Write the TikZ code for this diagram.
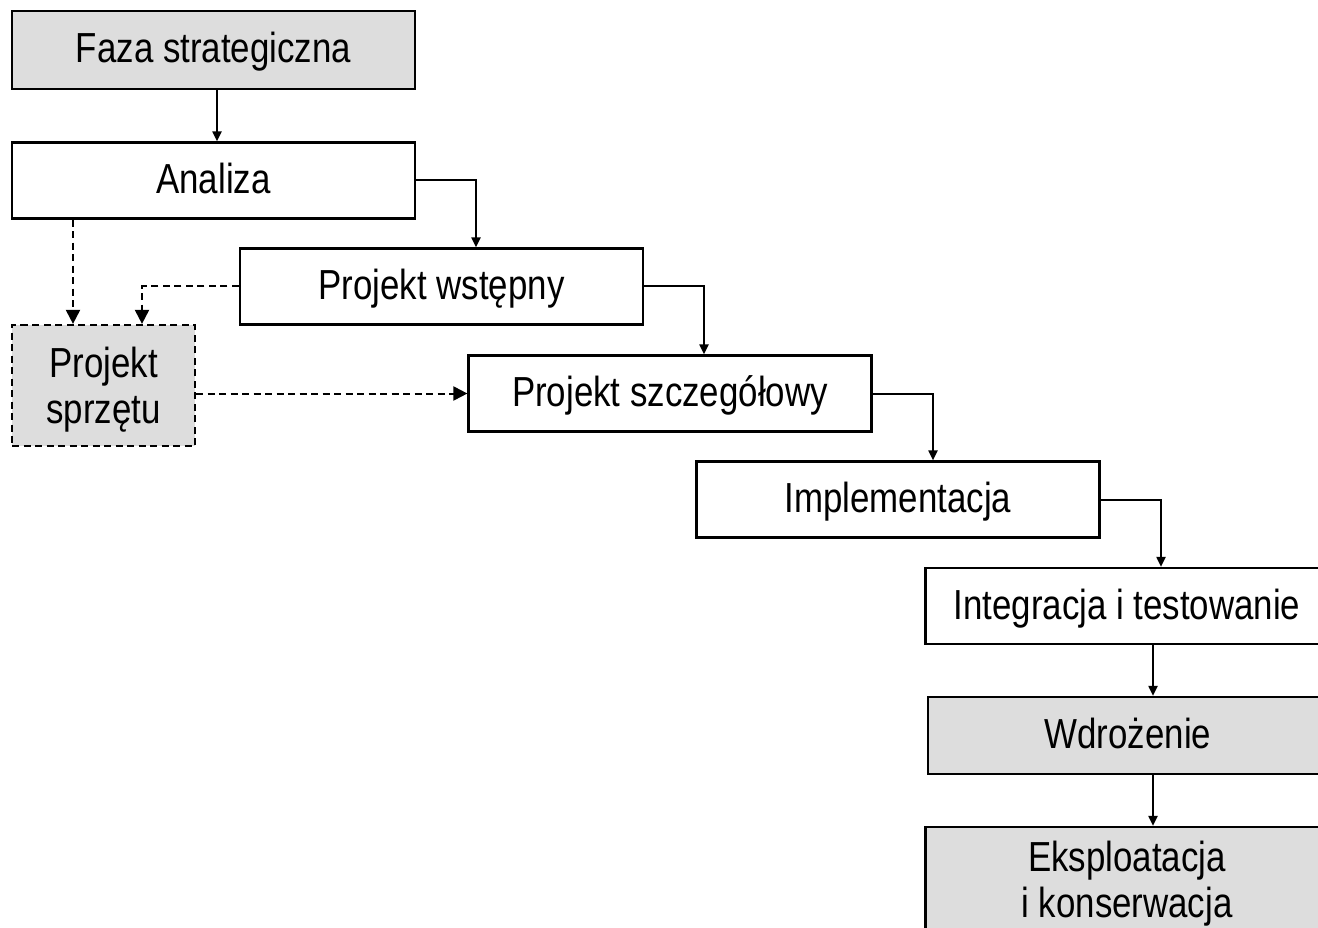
\documentclass[tikz,border=0pt]{standalone}
\usepackage{fontspec}
\setmainfont[FakeStretch=0.83]{Liberation Sans}
\usetikzlibrary{arrows.meta}
\definecolor{boxgray}{RGB}{221,221,221}
\begin{document}
\begin{tikzpicture}[x=1pt,y=-1pt,
  phase/.style={draw=black, line width=2.2pt, fill=white, minimum width=403pt,
    minimum height=76pt, inner sep=0pt, align=center,
    text height=34pt, text depth=8pt,
    font=\fontsize{42}{46}\selectfont},
  twoline/.style={text height=90pt, text depth=15pt},
  shaded/.style={fill=boxgray},
  arr/.style={line width=2pt, -{Triangle[length=10pt,width=9pt]}},
  darr/.style={line width=2pt, dash pattern=on 7pt off 4.5pt,
    -{Triangle[length=14pt,width=14pt]}}]
\clip (0,0) rectangle (1318,928);
\fill[white] (0,0) rectangle (1318,928);

% main sequence of phases
\node[phase, shaded, minimum height=78pt] (faza) at (213.5,50) {Faza strategiczna};
\node[phase] (analiza) at (213.5,180.5) {Analiza};
\node[phase] (wstepny) at (441.5,286.5) {Projekt wstępny};
\node[phase] (szczeg) at (670,393.5) {Projekt szczegółowy};
\node[phase] (impl) at (898,499.5) {Implementacja};
\node[phase] (integ) at (1127,606) {Integracja i testowanie};
\node[phase, shaded, minimum width=400pt, minimum height=77pt] (wdr) at (1128,735.5) {Wdrożenie};
\node[phase, shaded, twoline, minimum height=106pt] (eksp) at (1127,880) {Eksploatacja\\i konserwacja};

% hardware design branch
\node[phase, shaded, twoline, dash pattern=on 7pt off 4.5pt, minimum width=183pt,
  minimum height=121pt] (sprzet) at (103.5,385.5) {Projekt\\sprzętu};

% solid flow
\draw[arr] ([xshift=3.5]faza.south) -- ([xshift=3.5]analiza.north);
\draw[arr] (analiza.east) -| ([xshift=34.5]wstepny.north);
\draw[arr] (wstepny.east) -| ([xshift=34]szczeg.north);
\draw[arr] (szczeg.east) -| ([xshift=35]impl.north);
\draw[arr] (impl.east) -| ([xshift=34]integ.north);
\draw[arr] ([xshift=26]integ.south) -- ([xshift=25]wdr.north);
\draw[arr] ([xshift=25]wdr.south) -- ([xshift=26]eksp.north);

% dashed flow
\draw[darr] ([xshift=-30.5]analiza.south -| sprzet.north) -- ([xshift=-30.5]sprzet.north);
\draw[darr] (wstepny.west) -| ([xshift=38.5]sprzet.north);
\draw[darr] (sprzet.east |- szczeg.west) -- (szczeg.west);
\end{tikzpicture}
\end{document}
